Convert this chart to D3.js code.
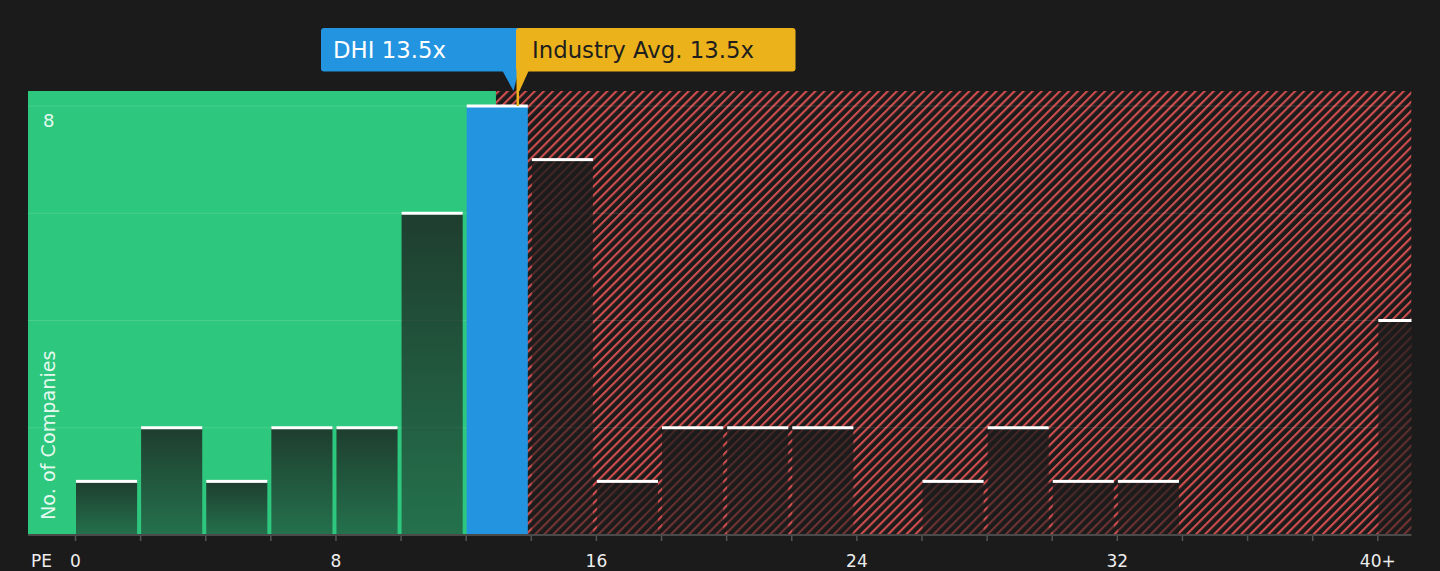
<!DOCTYPE html>
<html><head><meta charset="utf-8">
<script src="https://cdn.jsdelivr.net/npm/d3@7"></script>
<style>html,body{margin:0;padding:0;background:#1b1b1b;}svg{display:block;}</style>
</head><body>
<script>
// ---- data ----
const binStarts = [0,2,4,6,8,10,12,14,16,18,20,22,24,26,28,30,32,34,36,38,40];
const counts    = [1,2,1,2,2,6,8,7,1,2,2,2,0,1,2,1,1,0,0,0,4];
const binWidth = 2;
const companyName = "DHI";
const companyPE = 13.5;
const industryPE = 13.5;
const companyBinStart = 12;
const fairRangeEnd = 12.93;
const xTicks = [0,2,4,6,8,10,12,14,16,18,20,22,24,26,28,30,32,34,36,38,40];
const xTickLabels = {0:"0",8:"8",16:"16",24:"24",32:"32",40:"40+"};
const yGrid = [2,4,6,8];
const yTickLabels = [8];

// ---- layout ----
const W = 1440, H = 571;
const plotL = 28, plotR = 1411.5, plotT = 91, plotB = 535;
const x = d3.scaleLinear().domain([0,40]).range([75,1377.3]);
const y = d3.scaleLinear().domain([0,8]).range([535,106]);
const FONT = "'DejaVu Sans', Verdana, sans-serif";

const svg = d3.select("body").append("svg").attr("width",W).attr("height",H);
svg.append("rect").attr("width",W).attr("height",H).attr("fill","#1b1b1b");

const defs = svg.append("defs");
const pat = defs.append("pattern").attr("id","hatch").attr("patternUnits","userSpaceOnUse")
  .attr("width",6.4).attr("height",6.4).attr("patternTransform","rotate(45)");
pat.append("rect").attr("width",6.4).attr("height",6.4).attr("fill","#1b1b1b");
pat.append("rect").attr("width",2.1).attr("height",6.4).attr("fill","#d24e4e");

const grad = defs.append("linearGradient").attr("id","barGrad").attr("x1",0).attr("y1",0).attr("x2",0).attr("y2",1);
grad.append("stop").attr("offset","0%").attr("stop-color","#1b1b1b").attr("stop-opacity",0.8);
grad.append("stop").attr("offset","100%").attr("stop-color","#1b1b1b").attr("stop-opacity",0.5);

defs.append("clipPath").attr("id","plotClip").append("rect")
  .attr("x",plotL).attr("y",plotT-20).attr("width",plotR-plotL).attr("height",plotB-plotT+20);

const g = svg.append("g").attr("clip-path","url(#plotClip)");

// regions
g.append("rect").attr("x",plotL).attr("y",plotT).attr("width",x(fairRangeEnd)-plotL).attr("height",plotB-plotT).attr("fill","#2dc87e");
g.append("rect").attr("x",x(fairRangeEnd)).attr("y",plotT).attr("width",plotR-x(fairRangeEnd)).attr("height",plotB-plotT).attr("fill","url(#hatch)");

// gridlines
g.selectAll("line.grid").data(yGrid).join("line").attr("class","grid")
  .attr("x1",plotL).attr("x2",plotR).attr("y1",d=>y(d)).attr("y2",d=>y(d))
  .attr("stroke","#ffffff").attr("stroke-opacity",0.12).attr("stroke-width",1);

// bars
const bars = binStarts.map((s,i)=>({s, e:s+binWidth, v:counts[i]})).filter(d=>d.v>0);
g.selectAll("rect.bar").data(bars).join("rect").attr("class","bar")
  .attr("x",d=>x(d.s)+1).attr("width",d=>x(d.e)-x(d.s)-4)
  .attr("y",d=>y(d.v)).attr("height",d=>y(0)-y(d.v))
  .attr("fill",d=>d.s===companyBinStart?"#2394e0":"url(#barGrad)");
g.selectAll("rect.cap").data(bars).join("rect").attr("class","cap")
  .attr("x",d=>x(d.s)+1).attr("width",d=>x(d.e)-x(d.s)-4)
  .attr("y",d=>y(d.v)-1.5).attr("height",3).attr("fill","#ffffff");

// axis
const axis = d3.axisBottom(x).tickValues(xTicks).tickSize(6).tickFormat(d=>xTickLabels[d]||"");
const ax = svg.append("g").attr("transform",`translate(0,${plotB})`).call(axis);
ax.select(".domain").remove();
ax.selectAll(".tick line").attr("stroke","#555").attr("stroke-width",1.5);
ax.selectAll(".tick text").attr("fill","#eeeeee").attr("font-family",FONT).attr("font-size",17)
  .attr("y",32).attr("dy",0);
svg.append("line").attr("x1",plotL).attr("x2",plotR).attr("y1",plotB).attr("y2",plotB)
  .attr("stroke","#4a4a4a").attr("stroke-width",2);
svg.append("text").attr("x",31).attr("y",567).attr("fill","#eeeeee").attr("font-family",FONT).attr("font-size",17).text("PE");

// y labels
svg.selectAll("text.ylab").data(yTickLabels).join("text").attr("class","ylab")
  .attr("x",43).attr("y",d=>y(d)+21).attr("fill","#ffffff").attr("fill-opacity",0.9)
  .attr("font-family",FONT).attr("font-size",18).text(d=>d);
svg.append("text").attr("transform","translate(55,520) rotate(-90)")
  .attr("fill","#ffffff").attr("fill-opacity",0.9).attr("font-family",FONT).attr("font-size",19.2)
  .text("No. of Companies");

// annotations
const xc = x(companyPE), xi = x(industryPE);
svg.append("rect").attr("x",321).attr("y",28).attr("width",xc-321+8).attr("height",43.5).attr("rx",3).attr("fill","#2394e0");
svg.append("polygon").attr("points",`${xc-12},71 ${xc+4},71 ${xc-1},91`).attr("fill","#2394e0");
svg.append("text").attr("x",333).attr("y",58).attr("fill","#ffffff").attr("font-family",FONT).attr("font-size",22.8)
  .text(`${companyName} ${companyPE.toFixed(1)}x`);

svg.append("rect").attr("x",xi+1.5).attr("y",28).attr("width",279.5).attr("height",43.5).attr("rx",3).attr("fill","#ebb21b");
svg.append("polygon").attr("points",`${xi+2},70 ${xi+14.5},70 ${xi+5},91 ${xi+2},91`).attr("fill","#ebb21b");
svg.append("rect").attr("x",xi+2).attr("y",90).attr("width",2.5).attr("height",y(counts[binStarts.indexOf(companyBinStart)])-90).attr("fill","#ebb21b");
svg.append("text").attr("x",xi+17.5).attr("y",58).attr("fill","#1e1e1e").attr("font-family",FONT).attr("font-size",22.8)
  .text(`Industry Avg. ${industryPE.toFixed(1)}x`);
</script>
</body></html>
